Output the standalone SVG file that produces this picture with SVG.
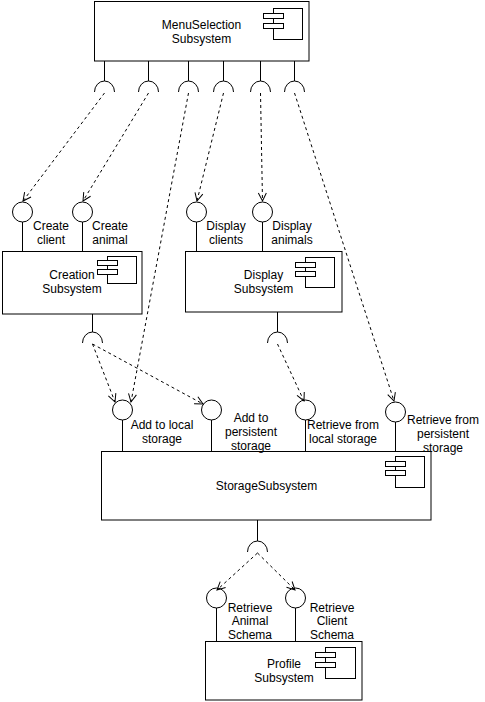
<svg xmlns="http://www.w3.org/2000/svg" width="485" height="702" viewBox="0 0 485 702">
<style>
.box{fill:#fff;stroke:#000;stroke-width:1}
.ico{fill:#fff;stroke:#000;stroke-width:1}
.ln{fill:none;stroke:#000;stroke-width:1}
.cir{fill:#fff;stroke:#000;stroke-width:1}
.edge{fill:none;stroke:#000;stroke-width:1;stroke-dasharray:3 3}
text{font-family:"Liberation Sans",Arial,sans-serif;font-size:12px;fill:#000;text-anchor:middle}
</style>
<defs>
<marker id="open" markerUnits="userSpaceOnUse" markerWidth="12" markerHeight="12" refX="8" refY="4" orient="auto" overflow="visible">
<path d="M0,0 L8,4 L0,8" fill="none" stroke="#000" stroke-width="1"/>
</marker>
</defs>
<rect width="485" height="702" fill="#fff"/>

<g id="menu">
<rect class="box" x="94.5" y="1.5" width="214.5" height="59.5"/>
<rect class="ico" x="273.5" y="8.5" width="29" height="31"/>
<rect class="ico" x="263.5" y="13.5" width="20" height="5"/>
<rect class="ico" x="263.5" y="23.5" width="20" height="5"/>
<text x="201.5" y="29">MenuSelection</text>
<text x="201.5" y="43">Subsystem</text>
<path class="ln" d="M104.5,61 V81 M94.5,92 A10,11 0 0 1 114.5,92"/>
<path class="ln" d="M148.5,61 V81 M138.5,92 A10,11 0 0 1 158.5,92"/>
<path class="ln" d="M188.5,61 V81 M178.5,92 A10,11 0 0 1 198.5,92"/>
<path class="ln" d="M223.5,61 V81 M213.5,92 A10,11 0 0 1 233.5,92"/>
<path class="ln" d="M260.5,61 V81 M250.5,92 A10,11 0 0 1 270.5,92"/>
<path class="ln" d="M294.5,61 V81 M284.5,92 A10,11 0 0 1 304.5,92"/>
</g>

<g id="creation">
<rect class="box" x="2.5" y="251.5" width="139.5" height="62.5"/>
<rect class="ico" x="107.5" y="256.5" width="29" height="27"/>
<rect class="ico" x="97.5" y="260.5" width="20" height="5"/>
<rect class="ico" x="97.5" y="269.5" width="20" height="5"/>
<text x="72" y="279">Creation</text>
<text x="72" y="293">Subsystem</text>
<circle class="cir" cx="22.5" cy="212" r="10"/>
<path class="ln" d="M22.5,222 V251.5"/>
<text x="51" y="229.5">Create</text>
<text x="51" y="243.5">client</text>
<circle class="cir" cx="82.5" cy="212" r="10"/>
<path class="ln" d="M82.5,222 V251.5"/>
<text x="110" y="229.5">Create</text>
<text x="110" y="243.5">animal</text>
<path class="ln" d="M92.5,314 V332 M82.5,343 A10,11 0 0 1 102.5,343"/>
</g>

<g id="display">
<rect class="box" x="185.5" y="251.5" width="156.5" height="60.5"/>
<rect class="ico" x="305.5" y="257.5" width="29" height="30"/>
<rect class="ico" x="295.5" y="262.5" width="20" height="5"/>
<rect class="ico" x="295.5" y="271.5" width="20" height="5"/>
<text x="263.5" y="279">Display</text>
<text x="263.5" y="293">Subsystem</text>
<circle class="cir" cx="196.5" cy="212" r="10"/>
<path class="ln" d="M196.5,222 V251.5"/>
<text x="226" y="229.5">Display</text>
<text x="226" y="243.5">clients</text>
<circle class="cir" cx="262.5" cy="212" r="10"/>
<path class="ln" d="M262.5,222 V251.5"/>
<text x="292" y="229.5">Display</text>
<text x="292" y="243.5">animals</text>
<path class="ln" d="M277.5,312 V332 M267.5,343 A10,11 0 0 1 287.5,343"/>
</g>

<g id="storage">
<rect class="box" x="101.5" y="451.5" width="329.5" height="68.5"/>
<rect class="ico" x="395.5" y="456.5" width="29" height="31"/>
<rect class="ico" x="385.5" y="461.5" width="20" height="5"/>
<rect class="ico" x="385.5" y="470.5" width="20" height="5"/>
<text x="266.5" y="490">StorageSubsystem</text>
<circle class="cir" cx="122.5" cy="410" r="10"/>
<path class="ln" d="M122.5,420 V451.5"/>
<text x="162" y="429">Add to local</text>
<text x="162" y="443">storage</text>
<circle class="cir" cx="211.5" cy="410" r="10"/>
<path class="ln" d="M211.5,420 V451.5"/>
<text x="251" y="422">Add to</text>
<text x="251" y="436">persistent</text>
<text x="251" y="450">storage</text>
<circle class="cir" cx="305.5" cy="410" r="10"/>
<path class="ln" d="M305.5,420 V451.5"/>
<text x="343" y="429">Retrieve from</text>
<text x="343" y="443">local storage</text>
<circle class="cir" cx="395.5" cy="412" r="10"/>
<path class="ln" d="M395.5,422 V451.5"/>
<text x="443" y="424">Retrieve from</text>
<text x="443" y="438">persistent</text>
<text x="443" y="452">storage</text>
<path class="ln" d="M257.5,520 V541 M247.5,552 A10,11 0 0 1 267.5,552"/>
</g>

<g id="profile">
<rect class="box" x="205.5" y="641.5" width="156.5" height="58.5"/>
<rect class="ico" x="325.5" y="647.5" width="30" height="31"/>
<rect class="ico" x="315.5" y="652.5" width="20" height="5"/>
<rect class="ico" x="315.5" y="662.5" width="20" height="5"/>
<text x="284" y="668">Profile</text>
<text x="284" y="682">Subsystem</text>
<circle class="cir" cx="216.5" cy="598" r="10"/>
<path class="ln" d="M216.5,608 V641.5"/>
<text x="250" y="611.5">Retrieve</text>
<text x="250" y="625">Animal</text>
<text x="250" y="638.5">Schema</text>
<circle class="cir" cx="295.5" cy="598" r="10"/>
<path class="ln" d="M295.5,608 V641.5"/>
<text x="332" y="611.5">Retrieve</text>
<text x="332" y="625">Client</text>
<text x="332" y="638.5">Schema</text>
</g>

<g id="connectors">
<path class="edge" marker-end="url(#open)" d="M104.5,93 L23,201"/>
<path class="edge" marker-end="url(#open)" d="M148.5,93 L83,201"/>
<path class="edge" marker-end="url(#open)" d="M188.5,93 L131,402"/>
<path class="edge" marker-end="url(#open)" d="M223.5,93 L197,201"/>
<path class="edge" marker-end="url(#open)" d="M260.5,93 L262.5,201"/>
<path class="edge" marker-end="url(#open)" d="M294.5,93 L394,401"/>
<path class="edge" marker-end="url(#open)" d="M92.5,344 L115,402"/>
<path class="edge" marker-end="url(#open)" d="M92.5,344 L203,404"/>
<path class="edge" marker-end="url(#open)" d="M277.5,344 L304,401"/>
<path class="edge" marker-end="url(#open)" d="M257.5,553 L217,590"/>
<path class="edge" marker-end="url(#open)" d="M257.5,553 L295,590"/>
</g>
</svg>
